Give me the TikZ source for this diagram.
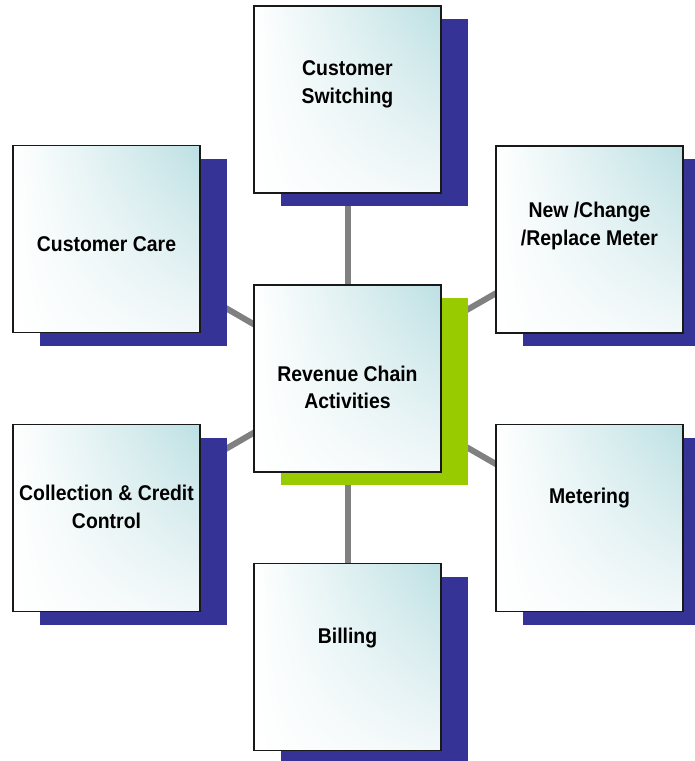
\documentclass[tikz,border=0pt]{standalone}
\usepackage{fontspec}
\newfontfamily\tilefont{Liberation Sans}[FakeStretch=0.91]
\usetikzlibrary{shadows, shadings, backgrounds, calc}
\definecolor{mNavy}{HTML}{363396}
\definecolor{mLime}{HTML}{99CC00}
\definecolor{mGray}{HTML}{808080}
\definecolor{mTeal}{HTML}{BDE0E3}
\definecolor{mMist}{HTML}{F2F8F9}

\begin{document}
\begin{tikzpicture}[
  x=0.75pt, y=0.75pt,
  tile/.style={draw=black!90, line width=1.1pt, inner sep=0pt,
               minimum width=140.25pt, minimum height=140.25pt,
               upper left=white, upper right=mTeal,
               lower left=white, lower right=mMist,
               drop shadow={shadow xshift=20.25pt, shadow yshift=-9.75pt,
               fill=#1, opacity=1}},
  tile/.default=mNavy,
  caption/.style={font=\tilefont\bfseries\fontsize{16}{20.6}\selectfont,
                  align=center, inner sep=0pt},
  link/.style={draw=mGray, line width=4.5pt},
]
  \useasboundingbox (0,0) rectangle (694,-761);

  % Hub in the middle
  \node[tile=mLime] (hub) at (347.5,-378.5) {};

  % Surrounding activities
  \node[tile] (switching) at (347.5,-99.5) {};
  \node[tile] (care) at (106.5,-239) {};
  \node[tile] (meter) at (589.5,-239.5) {};
  \node[tile] (collection) at (106.5,-518) {};
  \node[tile] (metering) at (589.5,-518) {};
  \node[tile] (billing) at (347.5,-657) {};

  % Spokes, behind the tiles
  \begin{scope}[on background layer]
    \foreach \t in {switching,care,meter,collection,metering,billing}
      \draw[link] (hub.center) -- (\t.center);
  \end{scope}

  % Captions
  \node[caption] (hubText) at ($(hub.center)+(0,-9)$) {Revenue Chain\\Activities};
  \node[caption] (switchingText) at ($(switching.center)+(0,15)$) {Customer\\Switching};
  \node[caption] (careText) at ($(care.center)+(0,-5)$) {Customer Care};
  \node[caption] (meterText) at ($(meter.center)+(0,13.5)$) {New /Change\\/Replace Meter};
  \node[caption] (collectionText) at ($(collection.center)+(0,11)$) {Collection \& Credit\\Control};
  \node[caption] (meteringText) at ($(metering.center)+(0,20)$) {Metering};
  \node[caption] (billingText) at ($(billing.center)+(0,19)$) {Billing};
\end{tikzpicture}
\end{document}
